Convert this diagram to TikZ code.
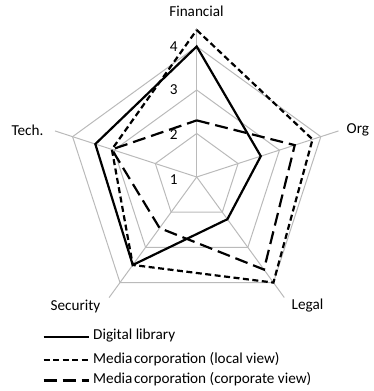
\documentclass[tikz,border=0pt]{standalone}
\usepackage{fontspec}
\setmainfont{Carlito}
\tikzset{
  gridln/.style={draw=black!27, line width=1pt},
  dlib/.style={draw=black, line width=2.2pt, line join=miter},
  mlocal/.style={draw=black, line width=2.2pt, dash pattern=on 6pt off 3.5pt},
  mcorp/.style={draw=black, line width=2.2pt, dash pattern=on 13pt off 6pt},
  axlabel/.style={font=\fontsize{15.2}{17}\selectfont, inner sep=0pt},
  ticklab/.style={font=\fontsize{15.2}{17}\selectfont, inner sep=0pt},
  legtext/.style={font=\fontsize{15.2}{17}\selectfont, inner sep=0pt, anchor=west}
}
\begin{document}
\begin{tikzpicture}[x=1pt,y=1pt]
\useasboundingbox (0,0) rectangle (373,391);
\begin{scope}[shift={(196.7,214)}]
  % grid rings
  \foreach \r in {43.5,87,130.5}
    \draw[gridln] (90:\r) -- (18:\r) -- (-54:\r) -- (-126:\r) -- (162:\r) -- cycle;
  % axes
  \coordinate (ctr) at (0,0);
  \coordinate (aF) at (90:149);
  \coordinate (aO) at (18:149);
  \coordinate (aL) at (-54:149);
  \coordinate (aS) at (-126:149);
  \coordinate (aT) at (162:149);
  \foreach \p in {aF,aO,aL,aS,aT} \draw[gridln] (ctr) -- (\p);
  % tick labels
  \node[ticklab] (t4) at (-23,130.5) {4};
  \node[ticklab] (t3) at (-23,87) {3};
  \node[ticklab] (t2) at (-23,42) {2};
  \node[ticklab] (t1) at (-23,-3) {1};
  % digital library
  \coordinate (dF) at (90:130.5);
  \coordinate (dO) at (18:67.4);
  \coordinate (dL) at (-54:52.2);
  \coordinate (dS) at (-126:108.75);
  \coordinate (dT) at (162:106.6);
  % media local
  \coordinate (lF) at (90:147);
  \coordinate (lO) at (18:121.8);
  \coordinate (lL) at (-54:130.5);
  \coordinate (lS) at (-126:108.75);
  \coordinate (lT) at (162:89.2);
  % media corporate
  \coordinate (cF) at (90:56.6);
  \coordinate (cO) at (18:103.1);
  \coordinate (cL) at (-54:114.4);
  \coordinate (cS) at (-126:63.1);
  \coordinate (cT) at (162:89.2);
  \draw[mcorp] (cF) -- (cO) -- (cL) -- (cS) -- (cT) -- cycle;
  \draw[mlocal] (lF) -- (lO) -- (lL) -- (lS) -- (lT) -- cycle;
  \draw[dlib] (dF) -- (dO) -- (dL) -- (dS) -- (dT) -- cycle;
\end{scope}
% axis labels
\node[axlabel] (labF) at (196.5,380) {Financial};
\node[axlabel, anchor=west] (labO) at (346.5,261) {Org};
\node[axlabel] (labT) at (27.5,261) {Tech.};
\node[axlabel] (labS) at (75.5,85) {Security};
\node[axlabel] (labL) at (307.5,85) {Legal};
% legend
\coordinate (g1a) at (43.5,54.3);
\coordinate (g1b) at (88.5,54.3);
\coordinate (g2a) at (43.5,31);
\coordinate (g2b) at (88.5,31);
\coordinate (g3a) at (43.5,10.5);
\coordinate (g3b) at (88.5,10.5);
\draw[dlib] (g1a) -- (g1b);
\draw[mlocal] (g2a) -- (g2b);
\draw[mcorp] (g3a) -- (g3b);
\node[legtext] (l1) at (93,55) {Digital library};
\node[legtext] (l2) at (93,32) {Media\hspace{0.1em}corporation (local view)};
\node[legtext] (l3) at (93,11.5) {Media\hspace{0.1em}corporation (corporate view)};
\end{tikzpicture}
\end{document}
